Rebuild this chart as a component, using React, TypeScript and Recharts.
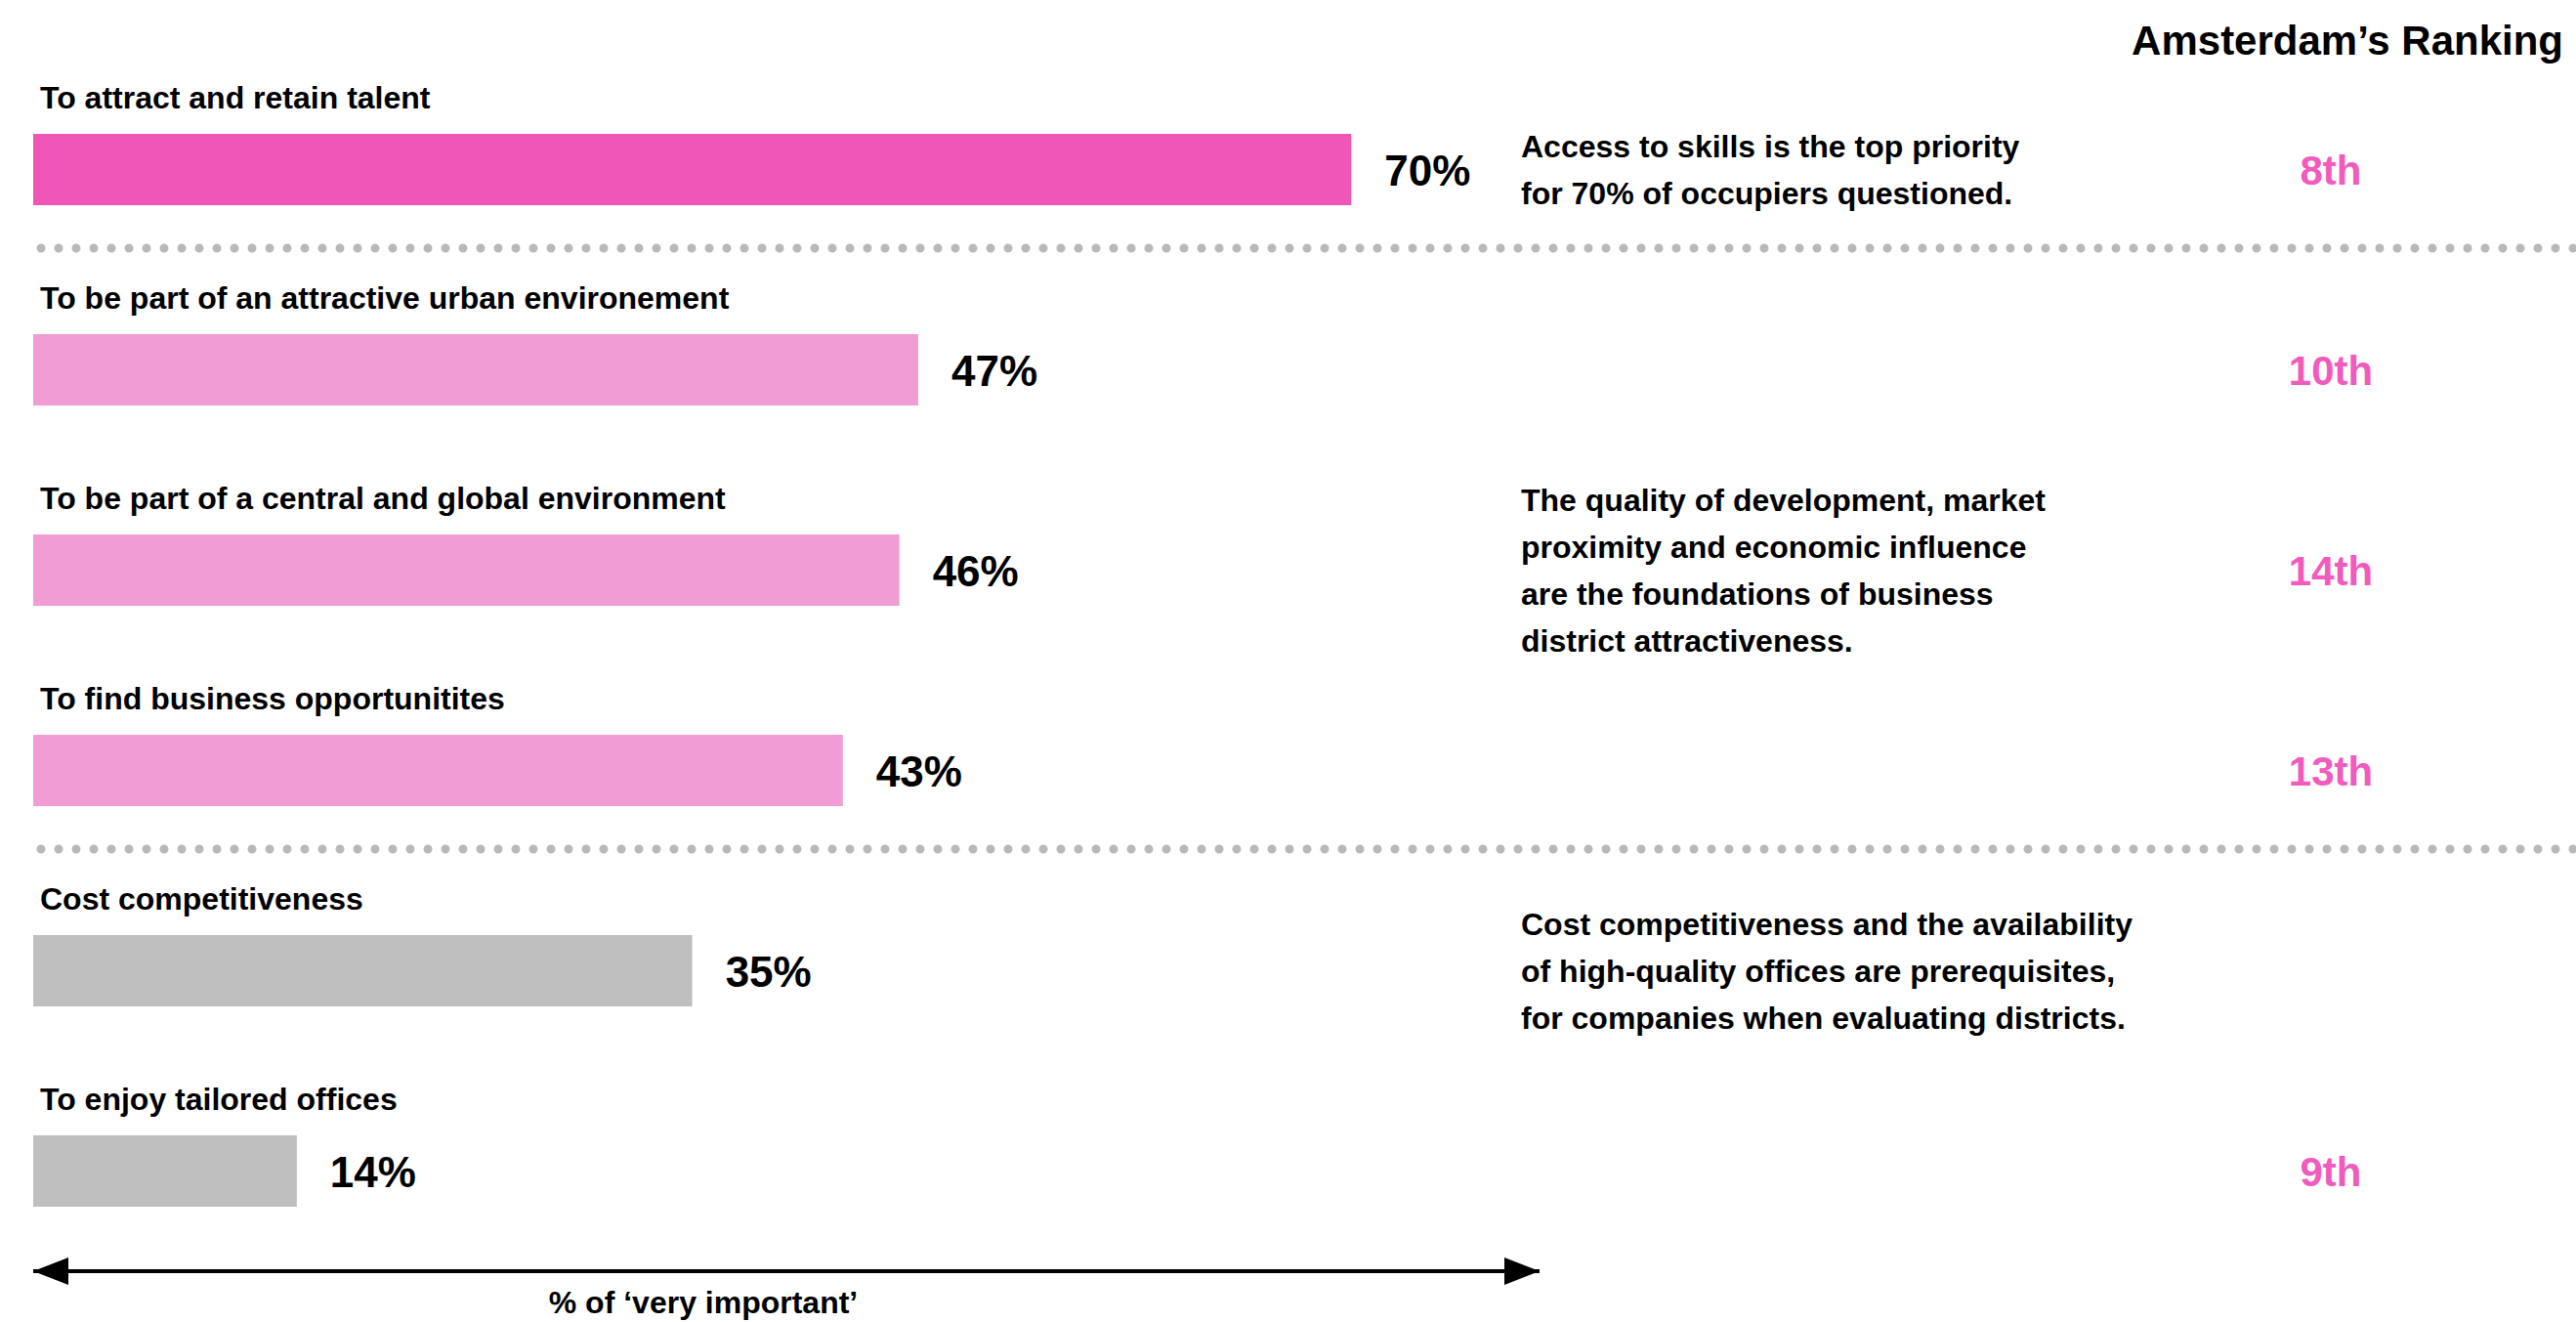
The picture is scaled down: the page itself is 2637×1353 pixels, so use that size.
/** Horizontal bars: why occupiers choose a business district, with Amsterdam's ranking. */

import { BarChart, Bar, XAxis, YAxis, Cell, LabelList } from 'recharts'

const categories = [
  'To attract and retain talent',
  'To be part of an attractive urban environement',
  'To be part of a central and global environment',
  'To find business opportunitites',
  'Cost competitiveness',
  'To enjoy tailored offices',
]

const values = [70, 47, 46, 43, 35, 14]

const rankings = ['8th', '10th', '14th', '13th', '', '9th']

const notes: string[][] = [
  ['Access to skills is the top priority', 'for 70% of occupiers questioned.'],
  [],
  [
    'The quality of development, market',
    'proximity and economic influence',
    'are the foundations of business',
    'district attractiveness.',
  ],
  [],
  [
    'Cost competitiveness and the availability',
    'of high-quality offices are prerequisites,',
    'for companies when evaluating districts.',
  ],
  [],
]

const axisTitle = '% of \u2018very important\u2019'
const rankingTitle = 'Amsterdam\u2019s Ranking'

// top bar stands out, the rest are tiered pink / grey
const BAR_COLORS = ['#f055b8', '#f09dd3', '#f09dd3', '#f09dd3', '#bfbfbf', '#bfbfbf']
const RANK_COLOR = '#f05bbd'
const FONT = '"Liberation Sans", Arial, Helvetica, sans-serif'

const W = 2637
const H = 1353
const TOP = 71
const AXIS_H = 52
const BAND = (H - TOP - AXIS_H) / categories.length

const rows = categories.map((name, i) => ({
  name,
  value: values[i],
  rank: rankings[i],
  note: notes[i].join('\n'),
}))

function NameLabel(props: any) {
  const { x, y, value } = props
  return (
    <text x={x + 7} y={y - 26} fontSize={32} fontWeight={700} fontFamily={FONT} fill="#000">
      {value}
    </text>
  )
}

function ValueLabel(props: any) {
  const { x, y, width, height, value } = props
  return (
    <text
      x={x + width + 34}
      y={y + height / 2 + 16}
      fontSize={44}
      fontWeight={700}
      fontFamily={FONT}
      fill="#000"
    >
      {value}%
    </text>
  )
}

function RankLabel(props: any) {
  const { y, height, value } = props
  if (!value) return null
  return (
    <text
      x={2386}
      y={y + height / 2 + 15}
      textAnchor="middle"
      fontSize={42}
      fontWeight={700}
      fontFamily={FONT}
      fill={RANK_COLOR}
    >
      {value}
    </text>
  )
}

function NoteLabel(props: any) {
  const { y, height, value } = props
  if (!value) return null
  const lines = String(value).split('\n')
  const lh = 48
  const first = y + height / 2 - ((lines.length - 1) * lh) / 2 + 11
  return (
    <text x={1557} fontSize={32} fontWeight={700} fontFamily={FONT} fill="#000">
      {lines.map((l, i) => (
        <tspan key={i} x={1557} y={first + i * lh}>
          {l}
        </tspan>
      ))}
    </text>
  )
}

export default function App() {
  // dotted separators sit a little above the band boundaries after row 1 and row 4
  const sepY = [TOP + BAND - 22, TOP + 4 * BAND - 22]
  return (
    <div style={{ position: 'relative', width: W, height: H, background: '#fff' }}>
      <style>{'body{margin:0}'}</style>
      <BarChart
        layout="vertical"
        width={W}
        height={H}
        data={rows}
        margin={{ top: TOP, right: W - 1576, left: 34, bottom: 0 }}
        barSize={73}
      >
        <XAxis
          type="number"
          domain={[0, 80]}
          height={AXIS_H}
          tick={false}
          tickLine={false}
          axisLine={{
            stroke: '#000',
            strokeWidth: 4,
            markerStart: 'url(#arrowStart)',
            markerEnd: 'url(#arrowEnd)',
          }}
        />
        <YAxis type="category" dataKey="name" hide />
        <Bar dataKey="value" isAnimationActive={false}>
          {rows.map((r, i) => (
            <Cell key={r.name} fill={BAR_COLORS[i]} />
          ))}
          <LabelList dataKey="name" content={NameLabel} />
          <LabelList dataKey="value" content={ValueLabel} />
          <LabelList dataKey="note" content={NoteLabel} />
          <LabelList dataKey="rank" content={RankLabel} />
        </Bar>
      </BarChart>
      <svg
        width={W}
        height={H}
        style={{ position: 'absolute', left: 0, top: 0, pointerEvents: 'none' }}
      >
        <defs>
          <marker
            id="arrowEnd"
            markerUnits="userSpaceOnUse"
            markerWidth={36}
            markerHeight={28}
            viewBox="0 0 36 28"
            refX={36}
            refY={14}
            orient="auto"
          >
            <path d="M0,0 L36,14 L0,28 Z" fill="#000" />
          </marker>
          <marker
            id="arrowStart"
            markerUnits="userSpaceOnUse"
            markerWidth={36}
            markerHeight={28}
            viewBox="0 0 36 28"
            refX={0}
            refY={14}
            orient="auto"
          >
            <path d="M36,0 L0,14 L36,28 Z" fill="#000" />
          </marker>
        </defs>
        {sepY.map((y) => (
          <line
            key={y}
            x1={42}
            x2={W}
            y1={y}
            y2={y}
            stroke="#b9b9b9"
            strokeWidth={9}
            strokeLinecap="round"
            strokeDasharray="0 18"
          />
        ))}
        <text
          x={2624}
          y={56}
          textAnchor="end"
          fontSize={42}
          fontWeight={700}
          fontFamily={FONT}
          fill="#000"
        >
          {rankingTitle}
        </text>
        <text
          x={720}
          y={1344}
          textAnchor="middle"
          fontSize={32}
          fontWeight={700}
          fontFamily={FONT}
          fill="#000"
        >
          {axisTitle}
        </text>
      </svg>
    </div>
  )
}
